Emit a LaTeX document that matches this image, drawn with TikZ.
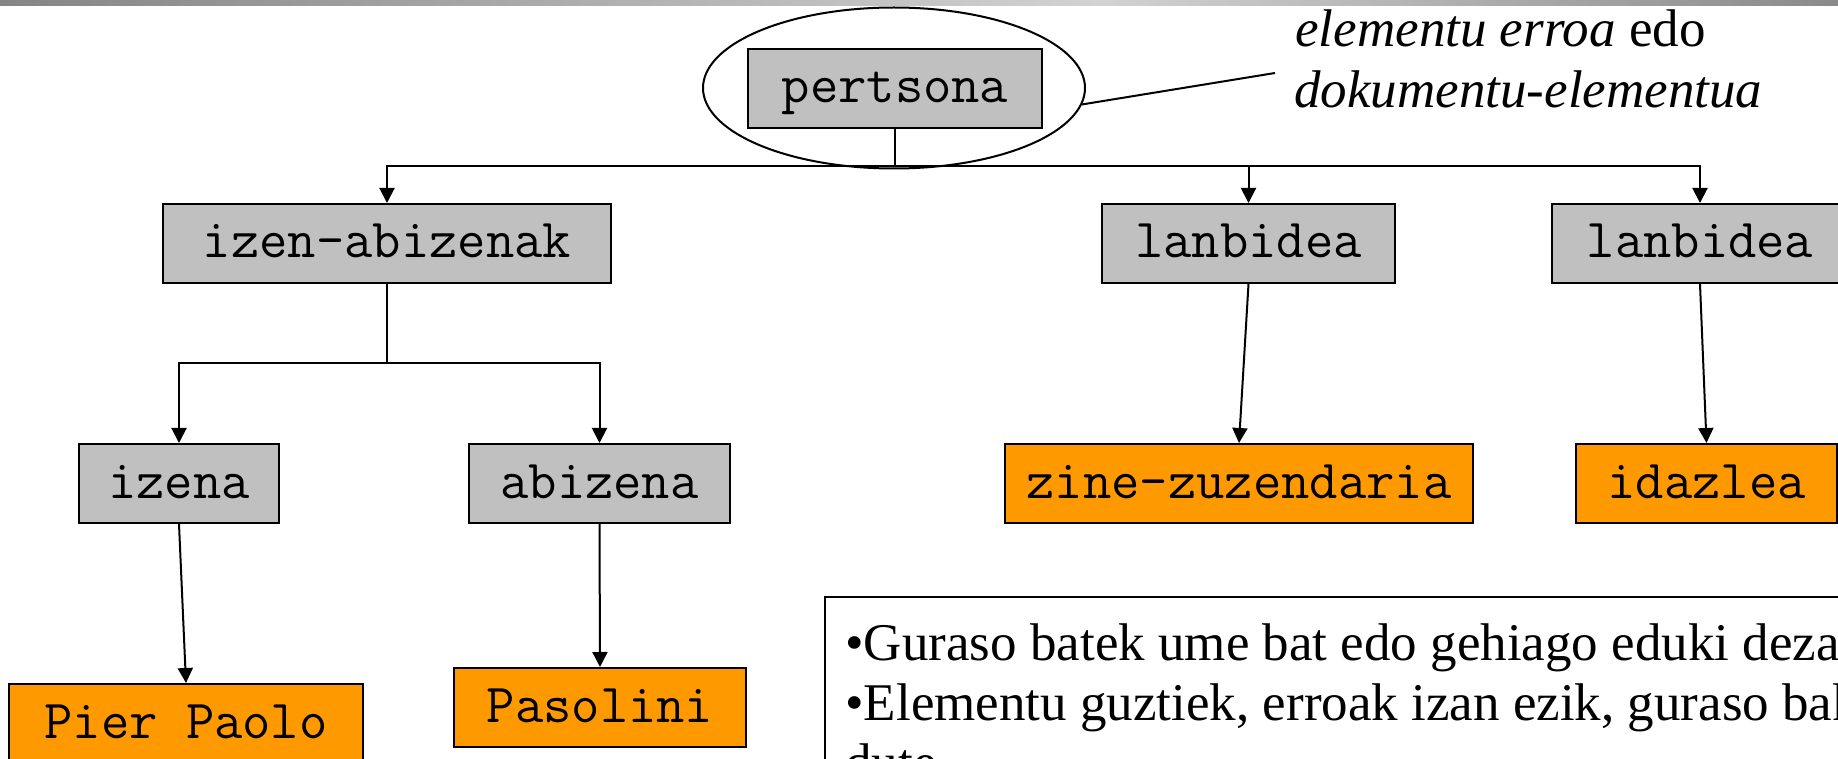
\documentclass[tikz,border=0pt]{standalone}
\usepackage{fontspec}
\setmainfont{Liberation Serif}
\usetikzlibrary{shapes.geometric,arrows.meta}
\definecolor{boxgray}{HTML}{C0C0C0}
\definecolor{boxorange}{HTML}{FF9900}
\definecolor{barL}{HTML}{858585}
\definecolor{barM}{HTML}{D2D2D2}
\definecolor{barR}{HTML}{8A8A8A}
\begin{document}
\begin{tikzpicture}[x=0.5pt,y=-0.5pt,
  el/.style={draw, line width=1pt, font=\fontsize{27.5}{31}\selectfont\ttfamily,
    minimum height=39.5pt, inner sep=0pt, text height=20.5pt, text depth=6pt},
  gbox/.style={el, fill=boxgray},
  obox/.style={el, fill=boxorange},
  conn/.style={line width=1pt},
  arr/.style={conn, -{Triangle[length=7.5pt,width=7.5pt]}},
  serif/.style={inner sep=0pt, anchor=base west, font=\fontsize{26.5}{30}\selectfont},
]
\useasboundingbox (0,0) rectangle (1838,759);
\clip (0,0) rectangle (1838,759);
\shade[left color=barL, right color=barM] (0,0) rectangle (1100,6);
\shade[left color=barM, right color=barR] (1100,0) rectangle (1838,6);

% ellipse around root
\node[ellipse, draw, line width=1pt, minimum width=191pt, minimum height=80.5pt, inner sep=0pt] (ell) at (894,88) {};

% boxes
\node[gbox, minimum width=147pt] (pers) at (895,88.5) {pertsona};
\node[gbox, minimum width=224pt] (izab) at (387,243.5) {izen-abizenak};
\node[gbox, minimum width=146.5pt] (lan1) at (1248.5,243.5) {lanbidea};
\node[gbox, minimum width=148pt] (lan2) at (1700,243.5) {lanbidea};
\node[gbox, minimum width=100pt] (izena) at (179,483.5) {izena};
\node[gbox, minimum width=130.5pt] (abiz) at (599.5,483.5) {abizena};
\node[obox, minimum width=234pt] (zine) at (1239,483.5) {zine-zuzendaria};
\node[obox, minimum width=130.5pt] (idaz) at (1706.5,483.5) {idazlea};
\node[obox, minimum width=177pt] (pier) at (186,723.5) {Pier Paolo};
\node[obox, minimum width=146pt] (paso) at (600,707.5) {Pasolini};

% connectors
\coordinate (j1) at (895,166);
\draw[conn] (pers.south) -- (j1);
\draw[arr] (j1) -| (izab.north);
\draw[arr] (j1) -| (lan1.north);
\draw[arr] (j1) -| (lan2.north);
\coordinate (j2) at (387,363);
\draw[conn] (izab.south) -- (j2);
\draw[arr] (j2) -| (izena.north);
\draw[arr] (j2) -| (abiz.north);
\draw[arr] (lan1.south) -- (zine.north);
\draw[arr] (lan2.south) -- (idaz.north);
\draw[arr] (izena.south) -- (pier.north);
\draw[arr] (abiz.south) -- (paso.north);

% label
\coordinate (lead) at (1275,73);
\draw[conn] (ell.-5) -- (lead);
\node[serif] (lab1) at (1295,47) {\textit{elementu erroa} edo};
\node[serif] (lab2) at (1294,108) {\textit{dokumentu-elementua}};

% note box
\node[draw, line width=1pt, anchor=north west, minimum width=560pt, minimum height=150pt, inner sep=0pt] (note) at (824,596) {};
\node[serif] (t1) at (845,660) {•Guraso batek ume bat edo gehiago eduki dezake.};
\node[serif] (t2) at (845,720) {•Elementu guztiek, erroak izan ezik, guraso bakar bat};
\node[serif] (t3) at (845,780) {dute.};
\end{tikzpicture}
\end{document}
